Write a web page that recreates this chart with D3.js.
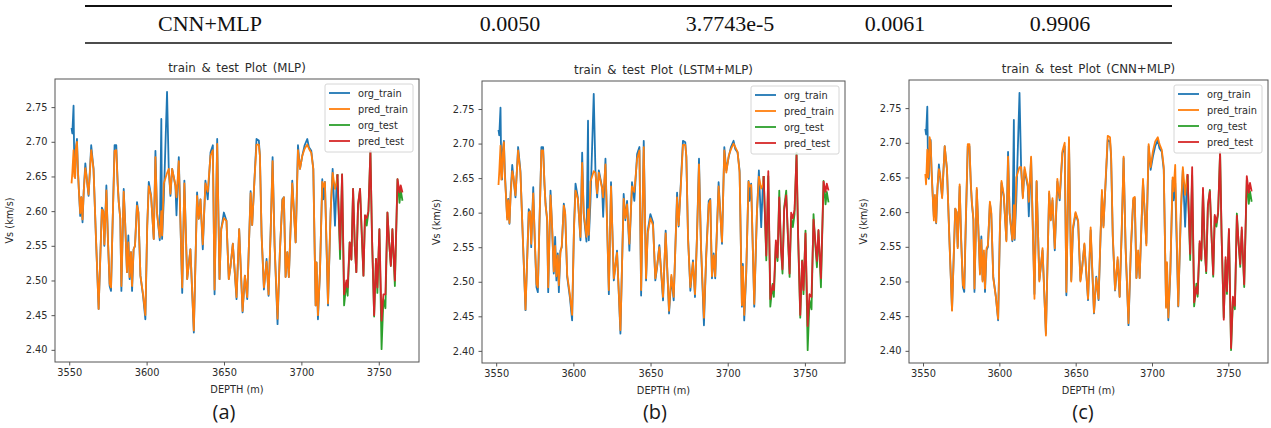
<!DOCTYPE html>
<html>
<head>
<meta charset="UTF-8">
<script src="https://cdnjs.cloudflare.com/ajax/libs/d3/7.8.5/d3.min.js"></script>
<style>
  body { margin: 0; background: #fff; }
  svg { display: block; }
</style>
</head>
<body>
<svg id="chart"></svg>
<script>
// ---------- DATA ----------
var tableRow = ["CNN+MLP", "0.0050", "3.7743e-5", "0.0061", "0.9906"];

var panelTitles = ["train & test Plot (MLP)", "train & test Plot (LSTM+MLP)", "train & test Plot (CNN+MLP)"];
var panelLabels = ["(a)", "(b)", "(c)"];
var legendLabels = ["org_train", "pred_train", "org_test", "pred_test"];
var xTicks = [3550, 3600, 3650, 3700, 3750];
var yTicks = [2.40, 2.45, 2.50, 2.55, 2.60, 2.65, 2.70, 2.75];

var depthTrain = [
  3551.5,3552.0,3552.8,3553.3,3553.8,3554.3,3555.0,3555.6,3556.2,3557.1,
  3557.8,3558.6,3559.4,3560.4,3561.2,3562.5,3564.2,3565.7,3567.3,3569.0,
  3571.1,3572.0,3572.7,3574.0,3575.0,3576.1,3577.0,3578.0,3579.3,3580.4,
  3581.3,3582.0,3583.0,3583.7,3585.2,3586.2,3587.3,3588.2,3589.0,3589.9,
  3590.6,3591.6,3592.5,3593.8,3594.7,3596.0,3597.7,3599.2,3600.4,3601.4,
  3602.9,3604.6,3605.7,3606.7,3608.5,3609.5,3610.0,3611.1,3613.2,3614.3,
  3615.4,3616.5,3618.6,3619.3,3620.8,3623.0,
  3624.4,3626.2,3628.3,3630.5,3632.6,3633.7,3634.8,3636.3,3638.0,3639.5,
  3641.3,3642.8,3643.9,3645.6,3647.1,3648.2,3649.9,3651.6,3653.1,3654.2,
  3655.7,3658.1,3659.8,3662.0,3663.5,3665.0,3667.2,3668.2,3669.7,3671.0,
  3672.5,3673.2,3674.3,3675.8,3677.5,3678.8,3680.1,3681.4,3682.7,3684.6,
  3686.1,3687.7,3688.7,3689.8,3690.9,3691.9,3694.1,3696.3,3697.8,3699.1,
  3700.6,3702.1,3703.8,3704.9,3706.4,3707.7,3709.2,3709.8,3710.7,3712.0,
  3713.5,3714.1,3715.2,3717.2,3718.9,3720.2,3721.7,3722.8,3723.3
];

var orgTrain = [
  2.720,2.712,2.752,2.660,2.648,2.690,2.704,2.660,2.632,2.593,
  2.620,2.584,2.630,2.669,2.650,2.622,2.695,2.661,2.560,2.459,
  2.605,2.600,2.550,2.637,2.560,2.492,2.485,2.580,2.695,2.695,
  2.640,2.613,2.589,2.485,2.632,2.580,2.512,2.565,2.502,2.541,
  2.485,2.545,2.550,2.613,2.598,2.507,2.478,2.444,2.579,2.642,
  2.622,2.560,2.687,2.598,2.558,2.733,2.560,2.617,2.772,2.661,
  2.622,2.661,2.637,2.594,2.678,2.482,
  2.644,2.502,2.545,2.425,2.627,2.589,2.617,2.545,2.644,2.617,
  2.685,2.695,2.480,2.704,2.502,2.574,2.598,2.586,2.502,2.520,
  2.553,2.473,2.574,2.454,2.507,2.473,2.629,2.580,2.646,2.704,
  2.702,2.680,2.565,2.487,2.531,2.478,2.567,2.678,2.550,2.437,
  2.541,2.617,2.620,2.505,2.541,2.505,2.644,2.555,2.695,2.661,
  2.680,2.695,2.704,2.692,2.687,2.661,2.464,2.526,2.444,2.512,
  2.646,2.617,2.642,2.464,2.598,2.661,2.579,2.642,2.653
];

var predTrainMLP = [
  2.640,2.655,2.688,2.650,2.648,2.690,2.700,2.660,2.632,2.597,
  2.620,2.588,2.630,2.662,2.650,2.624,2.688,2.661,2.560,2.459,
  2.602,2.600,2.552,2.630,2.560,2.495,2.490,2.580,2.687,2.688,
  2.640,2.613,2.589,2.492,2.628,2.580,2.512,2.555,2.505,2.541,
  2.492,2.545,2.550,2.608,2.598,2.507,2.480,2.450,2.579,2.636,
  2.622,2.560,2.678,2.598,2.562,2.600,2.565,2.640,2.655,2.661,
  2.625,2.661,2.637,2.620,2.672,2.490,
  2.640,2.502,2.545,2.428,2.622,2.589,2.617,2.552,2.640,2.628,
  2.680,2.688,2.487,2.697,2.502,2.574,2.590,2.586,2.502,2.520,
  2.553,2.476,2.574,2.456,2.507,2.476,2.626,2.580,2.646,2.696,
  2.696,2.680,2.565,2.490,2.527,2.480,2.567,2.672,2.550,2.445,
  2.541,2.615,2.620,2.505,2.541,2.505,2.640,2.555,2.688,2.661,
  2.680,2.690,2.696,2.690,2.684,2.661,2.464,2.526,2.450,2.512,
  2.642,2.635,2.642,2.467,2.600,2.655,2.632,2.642,2.653
];

var predTrainLSTM = [
  2.640,2.660,2.697,2.648,2.652,2.685,2.702,2.655,2.630,2.590,
  2.618,2.585,2.628,2.660,2.652,2.625,2.690,2.658,2.562,2.460,
  2.600,2.602,2.555,2.628,2.562,2.497,2.492,2.582,2.690,2.690,
  2.642,2.610,2.592,2.492,2.625,2.582,2.515,2.552,2.508,2.538,
  2.495,2.542,2.552,2.610,2.600,2.510,2.482,2.452,2.576,2.632,
  2.620,2.565,2.672,2.600,2.565,2.605,2.568,2.645,2.660,2.658,
  2.628,2.658,2.635,2.622,2.670,2.488,
  2.638,2.505,2.542,2.430,2.620,2.592,2.612,2.555,2.638,2.630,
  2.678,2.690,2.488,2.695,2.505,2.570,2.592,2.582,2.505,2.522,
  2.550,2.478,2.570,2.458,2.510,2.478,2.622,2.582,2.642,2.698,
  2.698,2.682,2.562,2.492,2.528,2.482,2.565,2.670,2.552,2.448,
  2.538,2.612,2.618,2.508,2.538,2.508,2.638,2.558,2.690,2.658,
  2.682,2.692,2.700,2.695,2.688,2.658,2.466,2.522,2.452,2.515,
  2.645,2.638,2.640,2.468,2.598,2.652,2.635,2.640,2.653
];

var predTrainCNN = [
  2.655,2.640,2.690,2.650,2.660,2.708,2.700,2.660,2.628,2.588,
  2.625,2.585,2.635,2.662,2.655,2.620,2.695,2.662,2.558,2.458,
  2.605,2.600,2.548,2.640,2.558,2.495,2.490,2.585,2.698,2.698,
  2.642,2.615,2.590,2.490,2.635,2.578,2.510,2.560,2.500,2.545,
  2.490,2.548,2.552,2.615,2.600,2.505,2.478,2.446,2.580,2.645,
  2.625,2.558,2.680,2.600,2.560,2.610,2.562,2.650,2.665,2.665,
  2.620,2.665,2.640,2.615,2.680,2.475,
  2.645,2.500,2.548,2.422,2.630,2.588,2.620,2.548,2.648,2.620,
  2.688,2.700,2.485,2.708,2.500,2.578,2.600,2.588,2.500,2.518,
  2.555,2.475,2.578,2.455,2.505,2.475,2.632,2.578,2.650,2.710,
  2.708,2.682,2.568,2.488,2.535,2.478,2.570,2.680,2.548,2.440,
  2.545,2.620,2.622,2.505,2.545,2.505,2.648,2.552,2.698,2.665,
  2.688,2.702,2.708,2.698,2.690,2.665,2.462,2.528,2.448,2.515,
  2.650,2.630,2.668,2.465,2.602,2.665,2.625,2.648,2.655
];

var depthTest = [
  3723.3,3725.0,3726.3,3727.6,3729.1,3729.9,3731.2,3732.3,3733.4,3734.5,
  3735.5,3736.6,3737.9,3739.0,3740.1,3741.1,3742.2,3743.3,3744.6,3745.6,
  3747.0,3748.2,3749.1,3750.4,3751.8,3753.0,3754.3,3755.6,3756.7,3757.8,
  3758.8,3760.4,3762.1,3763.4,3764.2,3765.3
];

var orgTest = [
  2.653,2.531,2.653,2.464,2.497,2.478,2.555,2.530,2.632,2.550,
  2.512,2.608,2.632,2.565,2.507,2.594,2.579,2.598,2.687,2.565,
  2.448,2.531,2.482,2.574,2.401,2.473,2.460,2.598,2.555,2.521,
  2.574,2.492,2.646,2.612,2.630,2.615
];

var predTestMLP = [
  2.653,2.545,2.653,2.480,2.500,2.490,2.555,2.530,2.632,2.550,
  2.512,2.610,2.632,2.570,2.507,2.594,2.590,2.600,2.687,2.565,
  2.450,2.531,2.490,2.574,2.442,2.480,2.480,2.598,2.555,2.521,
  2.574,2.500,2.646,2.627,2.637,2.627
];

var predTestLSTM = [
  2.653,2.538,2.660,2.475,2.495,2.488,2.560,2.535,2.622,2.548,
  2.518,2.605,2.625,2.568,2.512,2.600,2.592,2.604,2.683,2.570,
  2.452,2.530,2.488,2.570,2.436,2.482,2.478,2.590,2.560,2.530,
  2.575,2.505,2.645,2.630,2.642,2.632
];

var predTestCNN = [
  2.655,2.540,2.665,2.470,2.492,2.482,2.558,2.532,2.635,2.548,
  2.515,2.610,2.630,2.566,2.510,2.596,2.585,2.600,2.686,2.566,
  2.445,2.535,2.486,2.576,2.404,2.478,2.465,2.595,2.557,2.525,
  2.578,2.496,2.652,2.628,2.642,2.630
];

// ---------- LAYOUT ----------
var width = 1271, height = 428;
var colors = ["#1f77b4", "#ff7f0e", "#2ca02c", "#d62728"];
var axisColor = "#555";
var textColor = "#2b2b2b";
var mplFont = "'DejaVu Sans', sans-serif";

var svg = d3.select("#chart").attr("width", width).attr("height", height);

// top table row
svg.append("line").attr("x1", 85).attr("x2", 1172).attr("y1", 6).attr("y2", 6)
  .attr("stroke", "#111").attr("stroke-width", 2);
svg.append("line").attr("x1", 85).attr("x2", 1172).attr("y1", 43).attr("y2", 43)
  .attr("stroke", "#111").attr("stroke-width", 1.4);
var cellX = [210, 510, 730, 895, 1060];
svg.selectAll("text.cell").data(tableRow).enter().append("text")
  .attr("class", "cell")
  .attr("x", function (d, i) { return cellX[i]; })
  .attr("y", 31)
  .attr("text-anchor", "middle")
  .style("font-family", "'Liberation Serif', 'Times New Roman', serif")
  .style("font-size", "22px")
  .style("fill", "#111")
  .text(function (d) { return d; });

var panels = [
  { left: 55, top: 79, w: 364, h: 283, labelX: 224, predTrain: predTrainMLP, predTest: predTestMLP },
  { left: 482, top: 81, w: 363, h: 282, labelX: 655, predTrain: predTrainLSTM, predTest: predTestLSTM },
  { left: 909, top: 80, w: 359, h: 283, labelX: 1083, predTrain: predTrainCNN, predTest: predTestCNN }
];

// matplotlib-like 5% autoscale margin
function padded(ext) {
  var m = (ext[1] - ext[0]) * 0.05;
  return [ext[0] - m, ext[1] + m];
}

panels.forEach(function (p, i) {
  var g = svg.append("g").attr("transform", "translate(" + p.left + "," + p.top + ")");

  var xExt = d3.extent(depthTrain.concat(depthTest));
  var yExt = d3.extent(orgTrain.concat(orgTest, p.predTrain, p.predTest));

  var x = d3.scaleLinear().domain(padded(xExt)).range([0, p.w]);
  var y = d3.scaleLinear().domain(padded(yExt)).range([p.h, 0]);

  var line = d3.line()
    .x(function (d) { return x(d[0]); })
    .y(function (d) { return y(d[1]); });

  var series = [
    d3.zip(depthTrain, orgTrain),
    d3.zip(depthTrain, p.predTrain),
    d3.zip(depthTest, orgTest),
    d3.zip(depthTest, p.predTest)
  ];

  g.append("defs").append("clipPath").attr("id", "clip" + i)
    .append("rect").attr("width", p.w).attr("height", p.h);

  var plot = g.append("g").attr("clip-path", "url(#clip" + i + ")");
  series.forEach(function (s, k) {
    plot.append("path")
      .datum(s)
      .attr("d", line)
      .attr("fill", "none")
      .attr("stroke", colors[k])
      .attr("stroke-width", 1.8)
      .attr("stroke-linejoin", "round");
  });

  // axes
  var xAxis = g.append("g").attr("transform", "translate(0," + p.h + ")")
    .call(d3.axisBottom(x).tickValues(xTicks).tickSize(3.5).tickPadding(4).tickFormat(d3.format("d")));
  var yAxis = g.append("g")
    .call(d3.axisLeft(y).tickValues(yTicks).tickSize(3.5).tickPadding(4).tickFormat(d3.format(".2f")));
  [xAxis, yAxis].forEach(function (a) {
    a.select(".domain").remove();
    a.selectAll(".tick line").attr("stroke", axisColor);
    a.selectAll(".tick text")
      .style("font-family", mplFont)
      .style("font-size", "9.8px")
      .style("fill", textColor);
  });

  // frame
  g.append("rect").attr("width", p.w).attr("height", p.h)
    .attr("fill", "none").attr("stroke", axisColor).attr("stroke-width", 1);

  // title
  g.append("text")
    .attr("x", p.w / 2).attr("y", -7)
    .attr("text-anchor", "middle")
    .style("font-family", mplFont)
    .style("font-size", "11.8px")
    .style("word-spacing", "2px")
    .style("fill", textColor)
    .text(panelTitles[i]);

  // axis labels
  g.append("text")
    .attr("x", p.w / 2).attr("y", p.h + 31)
    .attr("text-anchor", "middle")
    .style("font-family", mplFont)
    .style("font-size", "9.8px")
    .style("fill", textColor)
    .text("DEPTH (m)");
  g.append("text")
    .attr("transform", "translate(" + (-42) + "," + (p.h / 2) + ") rotate(-90)")
    .attr("text-anchor", "middle")
    .style("font-family", mplFont)
    .style("font-size", "9.8px")
    .style("fill", textColor)
    .text("Vs (km/s)");

  // legend
  var lg = g.append("g").attr("transform", "translate(" + (p.w - 94) + ",5)");
  lg.append("rect").attr("width", 88).attr("height", 68).attr("rx", 2)
    .attr("fill", "#fff").attr("fill-opacity", 0.85)
    .attr("stroke", "#d6d6d6").attr("stroke-width", 1);
  legendLabels.forEach(function (t, k) {
    var yy = 9 + k * 16;
    lg.append("line").attr("x1", 4).attr("x2", 25).attr("y1", yy).attr("y2", yy)
      .attr("stroke", colors[k]).attr("stroke-width", 1.8);
    lg.append("text").attr("x", 33).attr("y", yy + 3.5)
      .style("font-family", mplFont)
      .style("font-size", "9.8px")
      .style("fill", textColor)
      .text(t);
  });

  // sub-figure label
  svg.append("text")
    .attr("x", p.labelX).attr("y", 419)
    .attr("text-anchor", "middle")
    .style("font-family", "'Open Sans', 'Liberation Sans', sans-serif")
    .style("font-size", "20px")
    .style("fill", "#1a1a1a")
    .text(panelLabels[i]);
});
</script>
</body>
</html>
